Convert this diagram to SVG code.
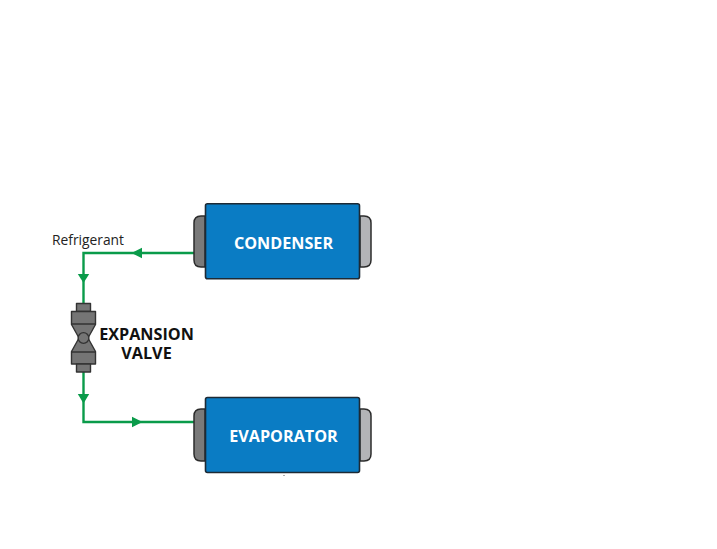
<svg xmlns="http://www.w3.org/2000/svg" width="717" height="549" viewBox="0 0 717 549">
<style>
.pipe{fill:none;stroke:#0a9b4a;stroke-width:2.4}
.head{fill:#0a9b4a}
.box{fill:#0a7cc4;stroke:#1d2a35;stroke-width:1.6}
.capl{fill:#7a7a7a;stroke:#2c2c2c;stroke-width:1.5}
.capr{fill:#b3b4b7;stroke:#2c2c2c;stroke-width:1.5}
.v{fill:#757575;stroke:#333;stroke-width:1.4;stroke-linejoin:round}
.t{font-family:"Open Sans",sans-serif;font-weight:700}
.w{fill:#fff;font-size:16.2px;text-anchor:middle}
.k{fill:#111;font-size:16.2px;text-anchor:middle}
</style>
<rect width="717" height="549" fill="#fff"/>
<g id="connectors">
<path class="pipe" d="M194 253H83.500V304"/>
<path class="pipe" d="M83.500 372V422H194"/>
<polygon class="head" points="131.500,253 142,247.800 142,258.200"/>
<polygon class="head" points="83.500,283 77.800,274 89.200,274"/>
<polygon class="head" points="83.500,403.500 77.800,394 89.200,394"/>
<polygon class="head" points="142.500,422 132,416.800 132,427.200"/>
</g>
<g id="condenser">
<path class="capl" d="M205 216H201Q194 216 194 223V260Q194 267 201 267H205Z"/>
<path class="capr" d="M360 216H364Q371 216 371 223V260Q371 267 364 267H360Z"/>
<rect class="box" x="205.500" y="203.800" width="154" height="75" rx="2"/>
<text class="t w" x="283.500" y="249">CONDENSER</text>
</g>
<g id="evaporator">
<path class="capl" d="M205 409H201Q194 409 194 416V454Q194 461 201 461H205Z"/>
<path class="capr" d="M360 409H364Q371 409 371 416V454Q371 461 364 461H360Z"/>
<rect class="box" x="205.500" y="397.500" width="154" height="75" rx="2"/>
<text class="t w" x="283.500" y="442">EVAPORATOR</text>
<rect x="283" y="475" width="2" height="0.800" fill="#999"/>
</g>
<g id="expansion-valve">
<rect class="v" x="76.500" y="303.500" width="14" height="8"/>
<path class="v" d="M71.500 311.500H95.500V324.500L88 338H79L71.500 324.500Z"/>
<path class="v" d="M79 338H88L95.500 351.500V364H71.500V351.500Z"/>
<path class="v" d="M71.500 324H95.500M71.500 352H95.500"/>
<rect class="v" x="76.500" y="364" width="14" height="8"/>
<circle class="v" cx="83.500" cy="338" r="5.400"/>
<text class="t k" x="146.500" y="340">EXPANSION<tspan x="146.500" y="359">VALVE</tspan></text>
</g>
<text x="52" y="245" font-family="Open Sans, sans-serif" font-size="13.800" fill="#222">Refrigerant</text>
</svg>
